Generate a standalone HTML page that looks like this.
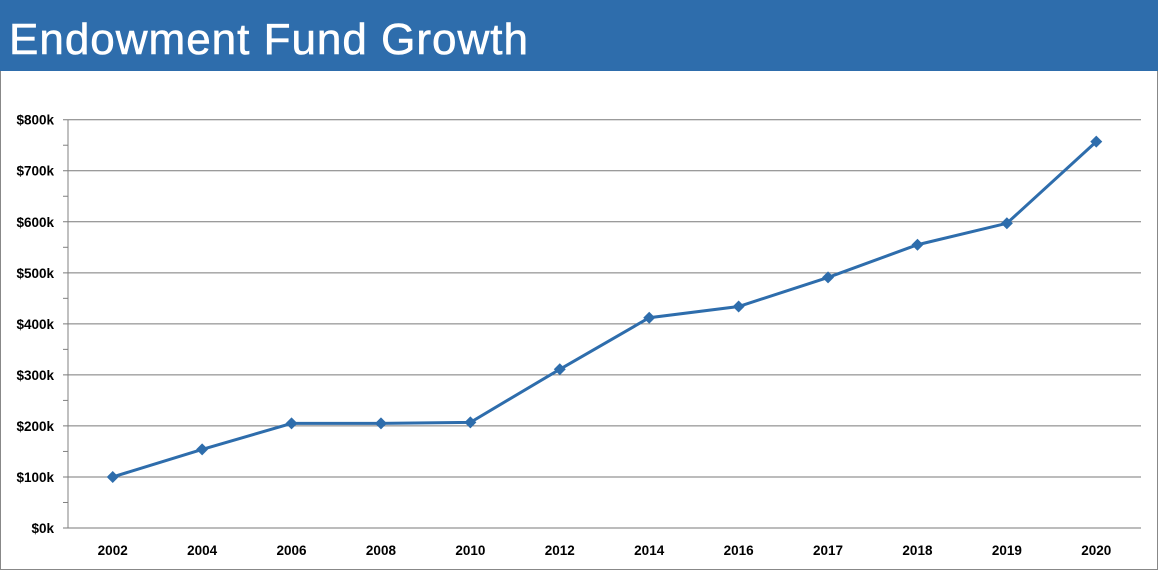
<!DOCTYPE html>
<html><head><meta charset="utf-8"><style>
body{margin:0;width:1158px;height:570px;overflow:hidden;background:#fff;font-family:"Liberation Sans",sans-serif}
#frame{position:absolute;left:0;top:0;width:1156px;height:568px;border:1px solid #888}
#title{position:absolute;left:0;top:0;width:1158px;height:71px;background:#2e6dac;color:#fff;font-size:44px;letter-spacing:1px;-webkit-text-stroke:0.6px #fff;line-height:80px;padding-left:9px;box-sizing:border-box}
svg{position:absolute;left:0;top:0}
</style></head><body>
<div id="frame"></div>
<div id="title">Endowment Fund Growth</div>
<svg id="chart" width="1158" height="570"></svg>
<script>
const categories=["2002","2004","2006","2008","2010","2012","2014","2016","2017","2018","2019","2020"];
const values=[100,154,205,205,207,311,412,434,491,555,597,757];
const yTicks=[0,100,200,300,400,500,600,700,800];
const yTickLabels=["$0k","$100k","$200k","$300k","$400k","$500k","$600k","$700k","$800k"];
const L=68,R=1141,T=119.7,B=528,YMAX=800;
const NS="http://www.w3.org/2000/svg";
const svg=document.getElementById('chart');
function y(v){return B-(v/YMAX)*(B-T);}
function x(i){const w=(R-L)/categories.length;return L+w*(i+0.5);}
function mk(tag,attrs){const e=document.createElementNS(NS,tag);for(const k in attrs)e.setAttribute(k,attrs[k]);svg.appendChild(e);return e;}
yTicks.forEach((v,i)=>{
 const g=mk('line',{x1:L-5,x2:R,y1:y(v),y2:y(v),stroke:'#7a7a7a','stroke-width':1});
 
 
 if(i<yTicks.length-1){const m=mk('line',{x1:L-5,x2:L,y1:y(v+50),y2:y(v+50),stroke:'#808080'});
 
 }
 const t=mk('text',{x:54,y:y(v)+5,'text-anchor':'end','font-size':'13.5','font-weight':'bold',fill:'#000'});
 t.textContent=yTickLabels[i];
 
 
});
const ax=mk('line',{x1:L,x2:L,y1:T,y2:B,stroke:'#808080'});


categories.forEach((c,i)=>{
 const t=mk('text',{x:x(i),y:555,'text-anchor':'middle','font-size':'13.5','font-weight':'bold',fill:'#000'});
 t.textContent=c;
 
 
});
const pl=mk('polyline',{points:values.map((v,i)=>x(i)+','+y(v)).join(' '),fill:'none',stroke:'#2e6dac','stroke-width':3});


values.forEach((v,i)=>{
 const cx=x(i),cy=y(v),s=6;
 const p=mk('polygon',{points:`${cx},${cy-s} ${cx+s},${cy} ${cx},${cy+s} ${cx-s},${cy}`,fill:'#2e6dac'});
 
 
});
</script>
</body></html>
